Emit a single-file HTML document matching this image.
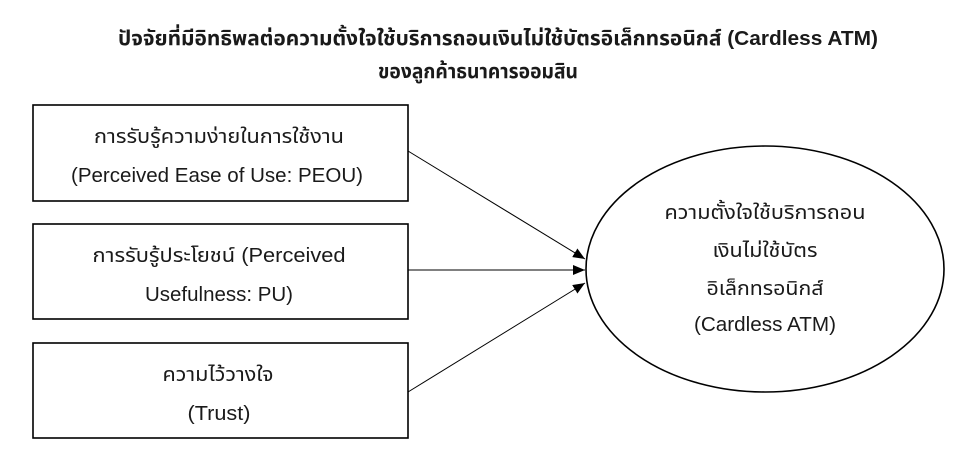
<!DOCTYPE html>
<html><head><meta charset="utf-8"><style>
html,body{margin:0;padding:0;background:#fff;}
svg{display:block;}
text{font-family:"Liberation Sans","Noto Sans Thai","Loma","Garuda",sans-serif;fill:#1a1a1a;}
</style></head><body>
<svg width="976" height="465" viewBox="0 0 976 465" xmlns="http://www.w3.org/2000/svg">
<defs><marker id="a" markerWidth="12" markerHeight="10" refX="12" refY="5" orient="auto" markerUnits="userSpaceOnUse"><path d="M0,0 L12,5 L0,10 Z" fill="#000"/></marker></defs>
<text x="498" y="45" text-anchor="middle" font-size="20" font-weight="bold" textLength="760" lengthAdjust="spacingAndGlyphs">ปัจจัยที่มีอิทธิพลต่อความตั้งใจใช้บริการถอนเงินไม่ใช้บัตรอิเล็กทรอนิกส์ (Cardless ATM)</text>
<text x="478" y="78" text-anchor="middle" font-size="20" font-weight="bold" textLength="200" lengthAdjust="spacingAndGlyphs">ของลูกค้าธนาคารออมสิน</text>
<g fill="none" stroke="#000" stroke-width="1.6">
<rect x="33" y="105" width="375" height="96"/>
<rect x="33" y="224" width="375" height="95"/>
<rect x="33" y="343" width="375" height="95"/>
<ellipse cx="765" cy="269" rx="179" ry="123"/>
</g>
<g stroke="#000" stroke-width="1">
<line x1="408" y1="151" x2="585" y2="259" marker-end="url(#a)"/>
<line x1="408" y1="270" x2="585" y2="270" marker-end="url(#a)"/>
<line x1="408" y1="392" x2="585" y2="283" marker-end="url(#a)"/>
</g>
<g font-size="20" text-anchor="middle">
<text x="219" y="143" textLength="250" lengthAdjust="spacingAndGlyphs">การรับรู้ความง่ายในการใช้งาน</text>
<text x="217" y="182" textLength="292" lengthAdjust="spacingAndGlyphs">(Perceived Ease of Use: PEOU)</text>
<text x="219" y="262" textLength="253" lengthAdjust="spacingAndGlyphs">การรับรู้ประโยชน์ (Perceived</text>
<text x="219" y="301" textLength="148" lengthAdjust="spacingAndGlyphs">Usefulness: PU)</text>
<text x="218" y="381" textLength="111" lengthAdjust="spacingAndGlyphs">ความไว้วางใจ</text>
<text x="219" y="420" textLength="63" lengthAdjust="spacingAndGlyphs">(Trust)</text>
<text x="765" y="219" textLength="201" lengthAdjust="spacingAndGlyphs">ความตั้งใจใช้บริการถอน</text>
<text x="765" y="257" textLength="105" lengthAdjust="spacingAndGlyphs">เงินไม่ใช้บัตร</text>
<text x="765" y="295" textLength="117" lengthAdjust="spacingAndGlyphs">อิเล็กทรอนิกส์</text>
<text x="765" y="331" textLength="142" lengthAdjust="spacingAndGlyphs">(Cardless ATM)</text>
</g>
</svg>
</body></html>
